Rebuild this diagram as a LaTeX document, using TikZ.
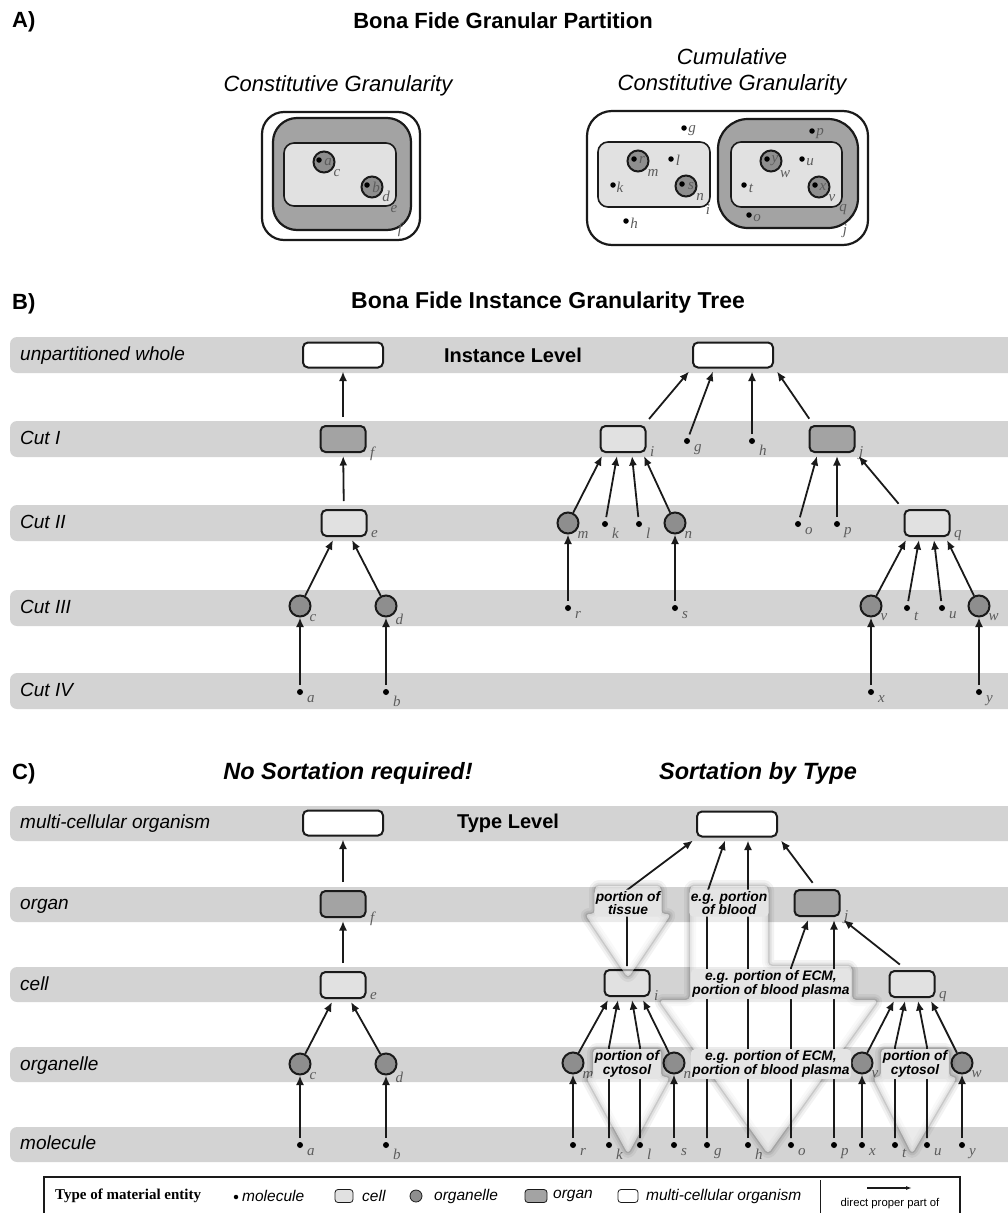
\documentclass[tikz,border=0pt]{standalone}
\usepackage{fontspec}
\setmainfont{Liberation Sans}
\newfontfamily\lserif{Liberation Serif}
\usetikzlibrary{arrows.meta,calc}

\definecolor{bandc}{HTML}{D3D3D3}
\definecolor{cellc}{HTML}{E1E1E1}
\definecolor{orgc}{HTML}{8E8E8E}
\definecolor{organc}{HTML}{A3A3A3}
\definecolor{linec}{HTML}{1A1A1A}
\definecolor{lblc}{HTML}{5C5C5C}
\definecolor{tagc}{HTML}{E4E4E4}

% soft translucent block arrow used for the sortation groups
\newcommand\sortarrow[1]{%
  \draw[line width=12pt, draw=black, draw opacity=0.05, line join=round, rounded corners=4pt] #1;
  \draw[line width=7pt, draw=black, draw opacity=0.07, line join=round, rounded corners=4pt] #1;
  \draw[line width=3pt, draw=black, draw opacity=0.11, line join=round, rounded corners=4pt] #1;
  \fill[white, fill opacity=0.55, rounded corners=4pt] #1;
}

\tikzset{
  pp/.style={-{Latex[length=9.5pt,width=8pt]}, line width=1.8pt, draw=linec},
  mol/.style={circle, fill=black, inner sep=0pt, minimum size=6pt, outer sep=4pt},
  orgl/.style={circle, draw=linec, line width=2pt, fill=orgc, minimum size=21pt, inner sep=0pt, outer sep=1pt},
  cellbox/.style={rectangle, rounded corners=5pt, draw=linec, line width=2pt, fill=cellc,
    minimum width=45pt, minimum height=26pt, inner sep=0pt, outer sep=4pt},
  organbox/.style={cellbox, fill=organc},
  wholebox/.style={cellbox, fill=white, minimum width=80pt, minimum height=25pt},
  lbl/.style={font=\lserif\itshape\fontsize{15}{15}\selectfont, text=lblc, inner sep=0.5pt},
  ml/.style={mol, label={[lbl]-25:#1}},
  ol/.style={orgl, label={[lbl]-40:#1}},
  cl/.style={cellbox, label={[lbl]-15:#1}},
  gl/.style={organbox, label={[lbl]-15:#1}},
  adot/.style={circle, fill=black, inner sep=0pt, minimum size=5.5pt},
  band/.style={fill=bandc, rounded corners=7pt},
  bandtext/.style={anchor=west, font=\itshape\fontsize{19}{19}\selectfont, text height=14pt, text depth=4pt, inner sep=0pt},
  head/.style={font=\bfseries\fontsize{22}{22}\selectfont, inner sep=0pt},
  headit/.style={font=\bfseries\itshape\fontsize{23.5}{23.5}\selectfont, inner sep=0pt},
  subhead/.style={font=\itshape\fontsize{22}{26}\selectfont, align=center, inner sep=0pt},
  lvl/.style={font=\bfseries\fontsize{20}{20}\selectfont, inner sep=0pt},
  tag/.style={font=\bfseries\itshape\fontsize{13.8}{11.5}\selectfont, align=center, fill=tagc,
    rounded corners=4pt, inner sep=1.5pt},
  legtext/.style={font=\itshape\fontsize{15.5}{15.5}\selectfont, anchor=west, inner sep=0pt},
  ring/.style={draw=linec, line width=2.2pt},
}

\begin{document}
\begin{tikzpicture}[x=1pt,y=-1pt]
\useasboundingbox (0,0) rectangle (1007,1213);

% ---------------- A) nested partitions ----------------
\node[head, anchor=west] (hA) at (12,22) {A)};
\node[head] (tA) at (503,21) {Bona Fide Granular Partition};
\node[subhead] (sA1) at (338,86) {Constitutive Granularity};
\node[subhead] (sA2) at (732,72) {Cumulative\\Constitutive Granularity};

% constitutive granularity
\draw[ring, fill=white, rounded corners=22pt] (262,112) rectangle (420,240);
\draw[ring, fill=organc, rounded corners=24pt] (273,118) rectangle (411,230);
\draw[ring, line width=1.6pt, fill=cellc, rounded corners=10pt] (284,143) rectangle (396,206);
\node[orgl] (Ac) at (324,162) {};
\node[orgl] (Ad) at (372,187) {};
\node[adot] (Aa) at (319,160) {};
\node[adot] (Ab) at (367,185) {};
\node[lbl] (Aat) at (328,162) {a};
\node[lbl] (Abt) at (376,187) {b};
\node[lbl] (Act) at (337,173) {c};
\node[lbl] (Adt) at (386,196) {d};
\node[lbl] (Aet) at (394,209) {e};
\node[lbl] (Aft) at (400,230) {f};

% cumulative constitutive granularity
\draw[ring, fill=white, rounded corners=25pt] (587,111) rectangle (868,245);
\draw[ring, line width=1.6pt, fill=cellc, rounded corners=10pt] (598,142) rectangle (710,207);
\draw[ring, fill=organc, rounded corners=30pt] (718,119) rectangle (858,228);
\draw[ring, line width=1.6pt, fill=cellc, rounded corners=10pt] (731,142) rectangle (842,207);
\node[orgl] (Am) at (638,161) {};
\node[orgl] (An) at (686,186) {};
\node[orgl] (Aw) at (771,161) {};
\node[orgl] (Av) at (819,187) {};
\node[adot] (Ar) at (634,159) {};
\node[adot] (As) at (682,184) {};
\node[adot] (Ay) at (767,159) {};
\node[adot] (Ax) at (815,185) {};
\node[lbl] (Art) at (642,160) {r};
\node[lbl] (Ast) at (691,186) {s};
\node[lbl] (Ayt) at (775,161) {y};
\node[lbl] (Axt) at (823,187) {x};
\node[lbl] (Amt) at (653,173) {m};
\node[lbl] (Ant) at (700,197) {n};
\node[lbl] (Awt) at (785,174) {w};
\node[lbl] (Avt) at (832,198) {v};
\node[lbl] (Ait) at (708,210) {i};
\node[lbl] (Aqt) at (843,210) {q};
\node[lbl] (Ajt) at (845,231) {j};
\node[adot] (Ag) at (684,128) {};
\node[adot] (Al) at (671,159) {};
\node[adot] (Ak) at (613,185) {};
\node[adot] (Ah) at (626,221) {};
\node[adot] (Ap) at (812,131) {};
\node[adot] (Au) at (802,159) {};
\node[adot] (At) at (744,185) {};
\node[adot] (Ao) at (749,215) {};
\node[lbl] (Agt) at (692,131) {g};
\node[lbl] (Alt) at (678,160) {l};
\node[lbl] (Akt) at (620,187) {k};
\node[lbl] (Aht) at (634,223) {h};
\node[lbl] (Apt) at (820,134) {p};
\node[lbl] (Aut) at (810,162) {u};
\node[lbl] (Att) at (751,188) {t};
\node[lbl] (Aot) at (757,218) {o};

% ---------------- B) instance granularity tree ----------------
\node[head, anchor=west] (hB) at (12,304) {B)};
\node[head, font=\bfseries\fontsize{23}{23}\selectfont] (tB) at (548,303) {Bona Fide Instance Granularity Tree};

\fill[band] (10,337) rectangle (1030,373);
\fill[band] (10,421) rectangle (1030,457);
\fill[band] (10,505) rectangle (1030,541);
\fill[band] (10,590) rectangle (1030,626);
\fill[band] (10,673) rectangle (1030,709);
\node[bandtext] (bw) at (20,355) {unpartitioned whole};
\node[bandtext] (b1) at (20,439) {Cut I};
\node[bandtext] (b2) at (20,523) {Cut II};
\node[bandtext] (b3) at (20,608) {Cut III};
\node[bandtext] (b4) at (20,691) {Cut IV};

\node[lvl] (instlvl) at (513,355) {Instance Level};

\node[wholebox] (B0L) at (343,355) {};
\node[gl=f] (fB) at (343,439) {};
\node[cl=e] (eB) at (344,523) {};
\node[ol=c] (cB) at (300,606) {};
\node[ol=d] (dB) at (386,606) {};
\node[ml=a] (aB) at (300,692) {};
\node[ml=b] (bB) at (386,692) {};

\node[wholebox] (B0M) at (733,355) {};
\node[cl=i] (iB) at (623,439) {};
\node[ml=g] (gB) at (687,441) {};
\node[ml=h] (hB) at (752,441) {};
\node[gl=j] (jB) at (832,439) {};
\node[ol=m] (mB) at (568,523) {};
\node[ml=k] (kB) at (605,524) {};
\node[ml=l] (lB) at (639,524) {};
\node[ol=n] (nB) at (675,523) {};
\node[ml=o] (oB) at (798,524) {};
\node[ml=p] (pB) at (837,524) {};
\node[cl=q] (qB) at (927,523) {};
\node[ml=r] (rB) at (568,608) {};
\node[ml=s] (sB) at (675,608) {};
\node[ol=v] (vB) at (871,606) {};
\node[ml=t] (tB) at (907,608) {};
\node[ml=u] (uB) at (942,608) {};
\node[ol=w] (wB) at (979,606) {};
\node[ml=x] (xB) at (871,692) {};
\node[ml=y] (yB) at (979,692) {};

\draw[pp, shorten <=5pt] (fB) -- (B0L);
\draw[pp, shorten <=5pt] (eB) -- (fB);
\draw[pp] (cB) -- ([xshift=-11pt]eB.south);
\draw[pp] (dB) -- ([xshift=8pt]eB.south);
\draw[pp] (aB) -- (cB);
\draw[pp] (bB) -- (dB);
\draw[pp, shorten <=4pt] ([xshift=-3pt]iB.north east) -- (B0M.south west);
\draw[pp] (gB) -- ([xshift=-20pt]B0M.south);
\draw[pp] (hB) -- (hB |- B0M.south);
\draw[pp, shorten <=4pt] ([xshift=6pt]jB.north west) -- (B0M.south east);
\draw[pp] (mB) -- ([xshift=-21pt]iB.south);
\draw[pp] (kB) -- ([xshift=-6pt]iB.south);
\draw[pp] (lB) -- ([xshift=9pt]iB.south);
\draw[pp] (nB) -- ([xshift=21pt]iB.south);
\draw[pp] (oB) -- ([xshift=-15pt]jB.south);
\draw[pp] (pB) -- ([xshift=5pt]jB.south);
\draw[pp, shorten <=3pt] (qB.north west) -- (jB.south east);
\draw[pp] (rB) -- (mB);
\draw[pp] (sB) -- (nB);
\draw[pp] (vB) -- ([xshift=-21pt]qB.south);
\draw[pp] (tB) -- ([xshift=-8pt]qB.south);
\draw[pp] (uB) -- ([xshift=7pt]qB.south);
\draw[pp] (wB) -- ([xshift=20pt]qB.south);
\draw[pp] (xB) -- (vB);
\draw[pp] (yB) -- (wB);

% ---------------- C) type granularity tree ----------------
\node[head, anchor=west] (hC) at (12,774) {C)};
\node[headit] (tC1) at (348,773) {No Sortation required!};
\node[headit] (tC2) at (758,773) {Sortation by Type};

\fill[band] (10,806) rectangle (1030,841);
\fill[band] (10,887) rectangle (1030,922);
\fill[band] (10,967) rectangle (1030,1002);
\fill[band] (10,1047) rectangle (1030,1082);
\fill[band] (10,1127) rectangle (1030,1162);
\node[bandtext] (c0) at (20,823) {multi-cellular organism};
\node[bandtext] (c1) at (20,904) {organ};
\node[bandtext] (c2) at (20,985) {cell};
\node[bandtext] (c3) at (20,1065) {organelle};
\node[bandtext] (c4) at (20,1144) {molecule};

\node[lvl] (typelvl) at (508,823) {Type Level};

\node[wholebox] (C0L) at (343,823) {};
\node[gl=f] (fC) at (343,904) {};
\node[cl=e] (eC) at (343,985) {};
\node[ol=c] (cC) at (300,1064) {};
\node[ol=d] (dC) at (386,1064) {};
\node[ml=a] (aC) at (300,1145) {};
\node[ml=b] (bC) at (386,1145) {};

\draw[pp, shorten <=5pt] (fC) -- (C0L);
\draw[pp, shorten <=5pt] (eC) -- (fC);
\draw[pp] (cC) -- ([xshift=-11pt]eC.south);
\draw[pp] (dC) -- ([xshift=8pt]eC.south);
\draw[pp] (aC) -- (cC);
\draw[pp] (bC) -- (dC);

\node[wholebox] (C0R) at (737,824) {};
\node[gl=j] (jC) at (817,903) {};
\node[cl=i] (iC) at (627,983) {};
\node[cl=q] (qC) at (912,984) {};
\node[ol=m] (mC) at (573,1063) {};
\node[ol=n] (nC) at (674,1063) {};
\node[ol=v] (vC) at (862,1063) {};
\node[ol=w] (wC) at (962,1063) {};
\node[ml=r] (rC) at (573,1145) {};
\node[ml=k] (kC) at (609,1145) {};
\node[ml=l] (lC) at (640,1145) {};
\node[ml=s] (sC) at (674,1145) {};
\node[ml=g] (gC) at (707,1145) {};
\node[ml=h] (hC) at (748,1145) {};
\node[ml=o] (oC) at (791,1145) {};
\node[ml=p] (pC) at (834,1145) {};
\node[ml=x] (xC) at (862,1145) {};
\node[ml=t] (tC) at (895,1145) {};
\node[ml=u] (uC) at (927,1145) {};
\node[ml=y] (yC) at (962,1145) {};

% translucent sortation arrows
\sortarrow{(595,886) -- (661,886) -- (661,914) -- (671,914) -- (628,978) -- (585,914) -- (595,914) -- cycle}
\sortarrow{(690,886) -- (768,886) -- (768,966) -- (852,966) -- (852,1000) -- (878,1000) -- (768,1154) -- (659,1000) -- (690,1000) -- cycle}
\sortarrow{(593,1049) -- (661,1049) -- (661,1077) -- (670,1077) -- (628,1154) -- (586,1077) -- (593,1077) -- cycle}
\sortarrow{(881,1049) -- (949,1049) -- (949,1077) -- (957,1077) -- (912,1154) -- (873,1077) -- (881,1077) -- cycle}

\coordinate (tisB) at (627,890);
\coordinate (gbB) at (707,893);
\coordinate (obB) at (791,968);
\coordinate (kbB) at (609,1047);
\coordinate (lbB) at (640,1047);
\coordinate (tbB) at (895,1047);
\coordinate (ubB) at (927,1047);

\draw[pp] (iC.north) -- (tisB) -- (C0R.south west);
\draw[pp] (gC) -- (gbB) -- ([xshift=-12pt]C0R.south);
\draw[pp] (hC) -- (hC |- C0R.south);
\draw[pp, shorten <=4pt] ([xshift=-2pt]jC.north) -- (C0R.south east);
\draw[pp] (oC) -- (obB) -- ([xshift=-9pt]jC.south);
\draw[pp] (pC) -- (pC |- jC.south);
\draw[pp, shorten <=4pt] ([xshift=-9pt]qC.north) -- (jC.south east);
\draw[pp] (mC) -- ([xshift=-19pt]iC.south);
\draw[pp] (kC) -- (kbB) -- ([xshift=-9pt]iC.south);
\draw[pp] (lC) -- (lbB) -- ([xshift=5pt]iC.south);
\draw[pp] (nC) -- ([xshift=16pt]iC.south);
\draw[pp] (rC) -- (mC);
\draw[pp] (sC) -- (nC);
\draw[pp] (vC) -- ([xshift=-18pt]qC.south);
\draw[pp] (tC) -- (tbB) -- ([xshift=-7pt]qC.south);
\draw[pp] (uC) -- (ubB) -- ([xshift=6pt]qC.south);
\draw[pp] (wC) -- ([xshift=19pt]qC.south);
\draw[pp] (xC) -- (vC);
\draw[pp] (yC) -- (wC);

\node[tag] (tagTis) at (628,903) {portion of\\tissue};
\node[tag] (tagBlood) at (729,903) {e.g. portion\\of blood};
\node[tag] (tagECM1) at (771,984) {e.g. portion of ECM,\\portion of blood plasma};
\node[tag] (tagECM2) at (771,1064) {e.g. portion of ECM,\\portion of blood plasma};
\node[tag] (tagCyt1) at (627,1064) {portion of\\cytosol};
\node[tag] (tagCyt2) at (915,1064) {portion of\\cytosol};

% ---------------- legend ----------------
\draw[line width=1.2pt, draw=linec] (44,1177) rectangle (960,1240);
\node[font=\lserif\bfseries\fontsize{15}{15}\selectfont, anchor=west, inner sep=0pt] (legT) at (55,1196) {Type of material entity};
\node[adot, minimum size=4.5pt] (legM) at (236,1197) {};
\node[legtext] (legMt) at (242,1196) {molecule};
\node[cellbox, minimum width=18pt, minimum height=13pt, line width=0.8pt, rounded corners=3pt, outer sep=0pt] (legC) at (344,1196) {};
\node[legtext] (legCt) at (362,1196) {cell};
\node[orgl, minimum size=12pt, line width=0.8pt] (legO) at (416,1196) {};
\node[legtext] (legOt) at (434,1196) {organelle};
\node[organbox, minimum width=22pt, minimum height=13pt, line width=0.8pt, rounded corners=3pt, outer sep=0pt] (legG) at (536,1196) {};
\node[legtext] (legGt) at (553,1196) {organ};
\node[wholebox, minimum width=20pt, minimum height=13pt, line width=0.8pt, rounded corners=3pt, outer sep=0pt] (legW) at (628,1196) {};
\node[legtext] (legWt) at (646,1196) {multi-cellular organism};
\coordinate (legSepTop) at (820,1180);
\coordinate (legSepBot) at (820,1215);
\draw[line width=0.8pt, draw=linec] (legSepTop) -- (legSepBot);
\coordinate (legA) at (867,1188);
\coordinate (legB) at (912,1188);
\draw[-{Latex[length=6pt,width=4pt]}, line width=1.2pt, draw=linec] (legA) -- (legB);
\node[font=\fontsize{11.3}{11.3}\selectfont, inner sep=0pt] (legPP) at (890,1204) {direct proper part of};
\end{tikzpicture}
\end{document}
